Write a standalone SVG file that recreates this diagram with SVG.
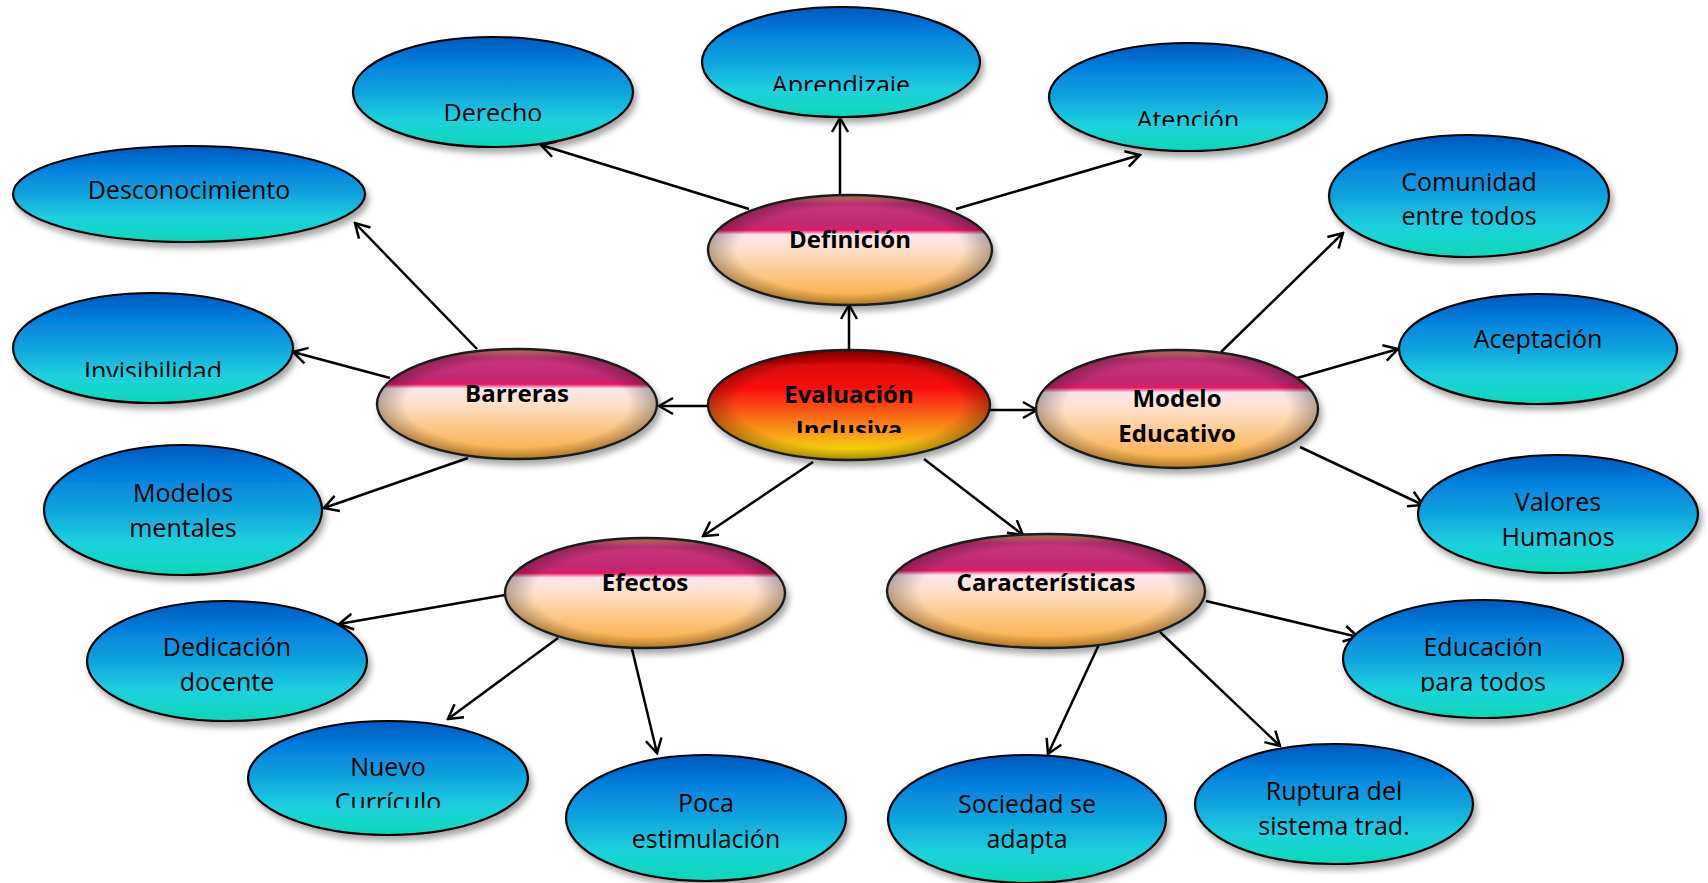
<svg xmlns="http://www.w3.org/2000/svg" width="1708" height="883" viewBox="0 0 1708 883">
<style>
  .blue { fill: url(#blueG); stroke: #000; stroke-width: 2.2; filter: url(#shadow); }
  .gloss { fill: url(#glossG); stroke: #1a1a1a; stroke-width: 2.4; filter: url(#shadow); }
  .core { fill: url(#coreG); stroke: #1a1a1a; stroke-width: 2.4; filter: url(#shadow); }
  .bevel { fill: url(#bevelG); stroke: none; }
  .t { font-family: "Open Sans", "Liberation Sans", sans-serif; font-size: 25px; fill: #000; text-anchor: middle; }
  .b { font-family: "Open Sans", "Liberation Sans", sans-serif; font-size: 24px; font-weight: bold; fill: #000; text-anchor: middle; }
  .conn line { stroke: #000; stroke-width: 2.5; fill: none; marker-end: url(#arrow); }
</style>
<defs>
  <linearGradient id="blueG" x1="0" y1="0" x2="0" y2="1">
    <stop offset="0" stop-color="#0058bd"/>
    <stop offset="0.25" stop-color="#0582de"/>
    <stop offset="0.5" stop-color="#0fa4dd"/>
    <stop offset="0.75" stop-color="#1ed1de"/>
    <stop offset="1" stop-color="#0cd9b8"/>
  </linearGradient>
  <linearGradient id="glossG" x1="0" y1="0" x2="0" y2="1">
    <stop offset="0" stop-color="#e89a78"/>
    <stop offset="0.08" stop-color="#c8347a"/>
    <stop offset="0.27" stop-color="#c02a72"/>
    <stop offset="0.32" stop-color="#e21a64"/>
    <stop offset="0.36" stop-color="#fbe6ef"/>
    <stop offset="0.5" stop-color="#fde0c8"/>
    <stop offset="0.78" stop-color="#fcbf74"/>
    <stop offset="1" stop-color="#f7ac38"/>
  </linearGradient>
  <linearGradient id="coreG" x1="0" y1="0" x2="0" y2="1">
    <stop offset="0" stop-color="#a80000"/>
    <stop offset="0.15" stop-color="#dc0808"/>
    <stop offset="0.35" stop-color="#fa1010"/>
    <stop offset="0.65" stop-color="#f87a18"/>
    <stop offset="0.9" stop-color="#f8cc10"/>
    <stop offset="1" stop-color="#e6c800"/>
  </linearGradient>
  <radialGradient id="bevelG" cx="0.5" cy="0.5" r="0.5">
    <stop offset="0.8" stop-color="#000" stop-opacity="0"/>
    <stop offset="1" stop-color="#000" stop-opacity="0.28"/>
  </radialGradient>
  <filter id="shadow" x="-10%" y="-10%" width="125%" height="135%">
    <feDropShadow dx="3" dy="5" stdDeviation="3" flood-color="#000" flood-opacity="0.35"/>
  </filter>
  <marker id="arrow" markerUnits="userSpaceOnUse" markerWidth="20" markerHeight="20" viewBox="0 0 20 20" refX="18" refY="10" orient="auto">
    <path d="M4,2 L18,10 L4,18" fill="none" stroke="#000" stroke-width="2.5"/>
  </marker>
  <clipPath id="cDerecho"><rect x="340" y="30" width="310" height="91"/></clipPath>
  <clipPath id="cAprend"><rect x="690" y="0" width="310" height="91"/></clipPath>
  <clipPath id="cAtencion"><rect x="1040" y="30" width="310" height="96"/></clipPath>
  <clipPath id="cInvis"><rect x="0" y="280" width="310" height="97"/></clipPath>
  <clipPath id="cEval"><rect x="700" y="340" width="310" height="93"/></clipPath>
  <clipPath id="cNuevo"><rect x="240" y="700" width="310" height="108"/></clipPath>
  <clipPath id="cEduc"><rect x="1330" y="590" width="310" height="102"/></clipPath>
</defs>

<g id="connectors" class="conn">
  <line x1="749" y1="209" x2="541" y2="145"/>
  <line x1="840" y1="194" x2="840" y2="118"/>
  <line x1="956" y1="209" x2="1140" y2="155"/>
  <line x1="849" y1="349" x2="849" y2="305"/>
  <line x1="709" y1="406" x2="659" y2="406"/>
  <line x1="988" y1="410" x2="1037" y2="410"/>
  <line x1="813" y1="462" x2="703" y2="536"/>
  <line x1="924" y1="459" x2="1023" y2="535"/>
  <line x1="477" y1="349" x2="355" y2="223"/>
  <line x1="390" y1="378" x2="293" y2="352"/>
  <line x1="468" y1="458" x2="324" y2="508"/>
  <line x1="1221" y1="352" x2="1343" y2="233"/>
  <line x1="1297" y1="378" x2="1398" y2="349"/>
  <line x1="1300" y1="447" x2="1423" y2="505"/>
  <line x1="505" y1="595" x2="339" y2="624"/>
  <line x1="558" y1="638" x2="448" y2="719"/>
  <line x1="632" y1="649" x2="657" y2="753"/>
  <line x1="1102" y1="638" x2="1048" y2="754"/>
  <line x1="1160" y1="632" x2="1280" y2="746"/>
  <line x1="1206" y1="601" x2="1358" y2="637"/>
</g>

<g id="n-derecho">
  <ellipse class="blue" cx="493" cy="92" rx="140" ry="55"/>
  <text class="t" x="493" y="122" clip-path="url(#cDerecho)">Derecho</text>
</g>
<g id="n-aprendizaje">
  <ellipse class="blue" cx="841" cy="62" rx="139" ry="55"/>
  <text class="t" x="841" y="94" clip-path="url(#cAprend)">Aprendizaje</text>
</g>
<g id="n-atencion">
  <ellipse class="blue" cx="1188" cy="97" rx="139" ry="54"/>
  <text class="t" x="1188" y="129" clip-path="url(#cAtencion)">Atención</text>
</g>
<g id="n-desconocimiento">
  <ellipse class="blue" cx="189" cy="194" rx="176" ry="48"/>
  <text class="t" x="189" y="199">Desconocimiento</text>
</g>
<g id="n-comunidad">
  <ellipse class="blue" cx="1469" cy="196" rx="140" ry="61"/>
  <text class="t" x="1469" y="191">Comunidad</text>
  <text class="t" x="1469" y="225">entre todos</text>
</g>
<g id="n-invisibilidad">
  <ellipse class="blue" cx="153" cy="348" rx="140" ry="55"/>
  <text class="t" x="153" y="380" clip-path="url(#cInvis)">Invisibilidad</text>
</g>
<g id="n-aceptacion">
  <ellipse class="blue" cx="1538" cy="349" rx="139" ry="55"/>
  <text class="t" x="1538" y="348">Aceptación</text>
</g>
<g id="n-modelos-mentales">
  <ellipse class="blue" cx="183" cy="510" rx="139" ry="65"/>
  <text class="t" x="183" y="502">Modelos</text>
  <text class="t" x="183" y="537">mentales</text>
</g>
<g id="n-valores">
  <ellipse class="blue" cx="1558" cy="514" rx="140" ry="59"/>
  <text class="t" x="1558" y="511">Valores</text>
  <text class="t" x="1558" y="546">Humanos</text>
</g>
<g id="n-dedicacion">
  <ellipse class="blue" cx="227" cy="661" rx="140" ry="60"/>
  <text class="t" x="227" y="656">Dedicación</text>
  <text class="t" x="227" y="691">docente</text>
</g>
<g id="n-educacion">
  <ellipse class="blue" cx="1483" cy="659" rx="140" ry="59"/>
  <text class="t" x="1483" y="656">Educación</text>
  <text class="t" x="1483" y="691" clip-path="url(#cEduc)">para todos</text>
</g>
<g id="n-nuevo">
  <ellipse class="blue" cx="388" cy="778" rx="140" ry="57"/>
  <text class="t" x="388" y="776">Nuevo</text>
  <text class="t" x="388" y="811" clip-path="url(#cNuevo)">Currículo</text>
</g>
<g id="n-poca">
  <ellipse class="blue" cx="706" cy="818" rx="140" ry="63"/>
  <text class="t" x="706" y="812">Poca</text>
  <text class="t" x="706" y="848">estimulación</text>
</g>
<g id="n-sociedad">
  <ellipse class="blue" cx="1027" cy="819" rx="139" ry="64"/>
  <text class="t" x="1027" y="813">Sociedad se</text>
  <text class="t" x="1027" y="848">adapta</text>
</g>
<g id="n-ruptura">
  <ellipse class="blue" cx="1334" cy="804" rx="139" ry="60"/>
  <text class="t" x="1334" y="800">Ruptura del</text>
  <text class="t" x="1334" y="835">sistema trad.</text>
</g>

<g id="n-definicion">
  <ellipse class="gloss" cx="850" cy="250" rx="142" ry="55"/>
  <ellipse class="bevel" cx="850" cy="250" rx="141" ry="54"/>
  <text class="b" x="850" y="248">Definición</text>
</g>
<g id="n-barreras">
  <ellipse class="gloss" cx="517" cy="404" rx="140" ry="55"/>
  <ellipse class="bevel" cx="517" cy="404" rx="139" ry="54"/>
  <text class="b" x="517" y="402">Barreras</text>
</g>
<g id="n-evaluacion">
  <ellipse class="core" cx="849" cy="405" rx="141" ry="55"/>
  <ellipse class="bevel" cx="849" cy="405" rx="140" ry="54"/>
  <text class="b" x="849" y="403">Evaluación</text>
  <text class="b" x="849" y="438" clip-path="url(#cEval)">Inclusiva</text>
</g>
<g id="n-modelo-educativo">
  <ellipse class="gloss" cx="1177" cy="409" rx="141" ry="59"/>
  <ellipse class="bevel" cx="1177" cy="409" rx="140" ry="58"/>
  <text class="b" x="1177" y="407">Modelo</text>
  <text class="b" x="1177" y="442">Educativo</text>
</g>
<g id="n-efectos">
  <ellipse class="gloss" cx="645" cy="593" rx="140" ry="55"/>
  <ellipse class="bevel" cx="645" cy="593" rx="139" ry="54"/>
  <text class="b" x="645" y="591">Efectos</text>
</g>
<g id="n-caracteristicas">
  <ellipse class="gloss" cx="1046" cy="591" rx="159" ry="57"/>
  <ellipse class="bevel" cx="1046" cy="591" rx="158" ry="56"/>
  <text class="b" x="1046" y="591">Características</text>
</g>
</svg>
